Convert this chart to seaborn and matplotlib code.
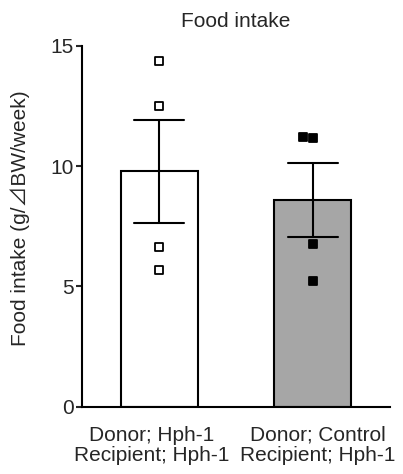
import numpy as np
import pandas as pd
import matplotlib
matplotlib.use("Agg")
import matplotlib.pyplot as plt
from matplotlib.transforms import ScaledTranslation
import seaborn as sns

groups = ["Donor; Hph-1\nRecipient; Hph-1", "Donor; Control\nRecipient; Hph-1"]
hph1_values = [14.38, 12.49, 6.62, 5.66]
control_values = [11.23, 11.17, 6.76, 5.22]
bar_colors = ["#ffffff", "#a6a6a6"]
marker_faces = ["#ffffff", "#000000"]
yticks = [0, 5, 10, 15]

df = pd.DataFrame({
    "group": [groups[0]] * len(hph1_values) + [groups[1]] * len(control_values),
    "value": hph1_values + control_values,
})

sns.set_theme(style="ticks")
plt.rcParams["font.family"] = ["Liberation Sans", "DejaVu Sans"]

fig = plt.figure(figsize=(4.03, 4.74), dpi=100)
ax = fig.add_axes([0.2035, 0.1424, 0.7642, 0.7606])

sns.barplot(data=df, x="group", y="value", order=groups, hue="group",
            palette=bar_colors, errorbar="se", capsize=0.32, width=0.5,
            edgecolor="black", linewidth=1.5, legend=False,
            err_kws={"color": "black", "linewidth": 1.5}, ax=ax)

for i, g in enumerate(groups):
    sub = df[df["group"] == g]
    sns.swarmplot(data=sub, x="group", y="value", order=groups,
                  marker="s", size=5.5, color=marker_faces[i], edgecolor="black",
                  linewidth=1.3, ax=ax, zorder=5)

ax.set_xlim(-0.5, 1.5)
ax.set_ylim(0, 15)
ax.set_yticks(yticks)
ax.set_yticklabels([str(t) for t in yticks])
ax.set_xlabel("")
ax.set_ylabel("Food intake (g/\u22bfBW/week)", fontsize=15,
              family=["Liberation Sans", "Noto Sans CJK JP"])
ax.yaxis.set_label_coords(-0.169, 0.523)
ax.set_title("Food intake", fontsize=15, pad=14)
ax.tick_params(axis="y", length=4, width=1.5, labelsize=15, pad=2)
ax.tick_params(axis="x", length=0, labelsize=15, pad=14)
shifts = [-7, 5]
for lab, dx in zip(ax.get_xticklabels(), shifts):
    lab.set_linespacing(1.1)
    lab.set_transform(lab.get_transform() + ScaledTranslation(dx / 100, 0, fig.dpi_scale_trans))
for s in ["left", "bottom"]:
    ax.spines[s].set_linewidth(1.5)
    ax.spines[s].set_color("black")
sns.despine(ax=ax)

fig.savefig("out.png", dpi=100)
